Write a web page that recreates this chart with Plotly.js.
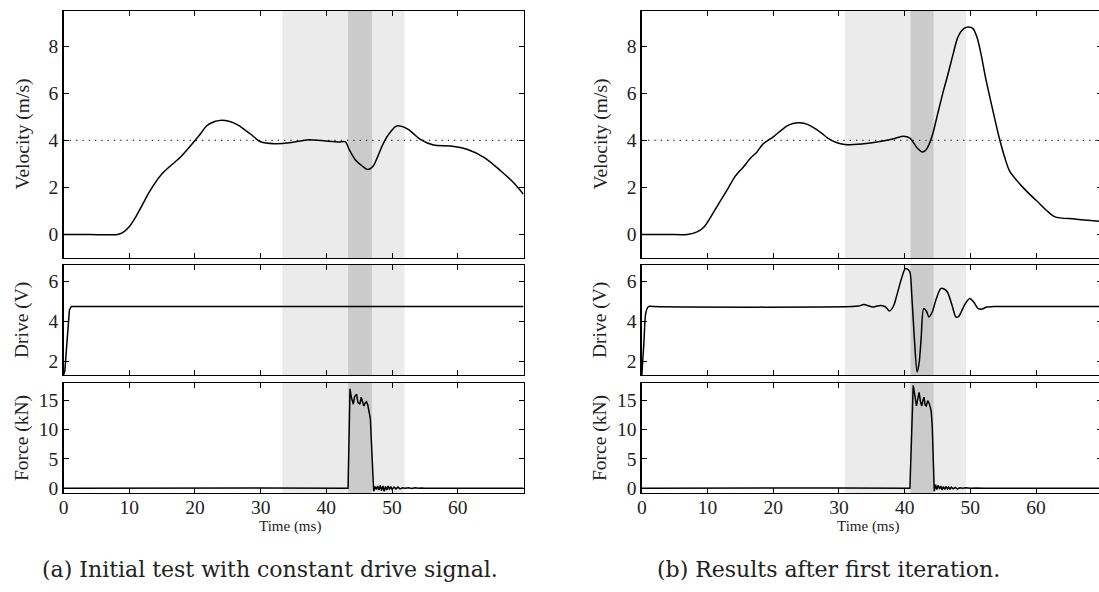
<!DOCTYPE html>
<html>
<head>
<meta charset="utf-8">
<script src="https://cdn.plot.ly/plotly-3.0.1.min.js"></script>
<style>
html,body{margin:0;padding:0;overflow:hidden;background:#fff;}
#chart{width:1102px;height:592px;}
</style>
</head>
<body>
<div id="chart"></div>
<script>
// ---------- Data ----------
// (a) Initial test with constant drive signal
const velTimeA = [0, 4, 8.2, 9, 10, 11, 12, 13, 14.1, 15, 16.2, 17.7, 19.3, 20.8, 21.8, 23, 24.1, 25.3, 26.5, 27.5, 28.5, 30, 32.1, 34.7, 37.3, 39.9, 41.9, 42.9, 43.5, 44.5, 45.5, 46.3, 47.1, 47.8, 48.6, 49.6, 50.7, 52.2, 53.2, 54.3, 56.3, 58.9, 61.5, 64.1, 66.6, 68.5, 70];
const velA     = [0, 0, 0, 0.08, 0.33, 0.75, 1.26, 1.78, 2.26, 2.58, 2.9, 3.26, 3.76, 4.26, 4.62, 4.8, 4.86, 4.8, 4.66, 4.47, 4.26, 3.94, 3.86, 3.91, 4.03, 3.97, 3.93, 3.94, 3.6, 3.14, 2.9, 2.76, 2.9, 3.3, 3.83, 4.3, 4.61, 4.51, 4.3, 4.04, 3.8, 3.76, 3.61, 3.26, 2.69, 2.2, 1.71];

const driveTimeA = [0, 0.2, 0.9, 1.2, 70];
const driveA     = [1.3, 1.5, 4.55, 4.73, 4.73];

const forceTimeA = [0, 10, 20, 30, 43.3, 43.6, 43.8, 44.1, 44.3, 44.6, 44.8, 45.1, 45.3, 45.5, 45.7, 45.9, 46.1, 46.3, 46.5, 46.7, 46.85, 46.97, 47.1, 47.2, 47.4, 47.6, 47.8, 48.0, 48.2, 48.4, 48.6, 48.8, 49.0, 49.2, 49.4, 49.6, 49.8, 50.0, 50.3, 50.6, 50.9, 51.2, 51.6, 52, 52.5, 53, 53.5, 54, 54.5, 55, 70];
const forceA     = [0, 0.05, 0, 0.05, 0, 16.9, 15.5, 14.3, 15.6, 16.0, 14.6, 14.3, 15.5, 14.6, 14.0, 14.5, 14.7, 14.2, 12.8, 11.8, 8, 4, 0.5, -0.5, 0.3, -0.2, 0.4, -0.3, 0.5, -0.4, 0.4, -0.5, 0.3, -0.3, 0.4, -0.2, 0.3, -0.2, 0.2, -0.1, 0.2, -0.1, 0.1, 0, 0.1, -0.05, 0.1, 0, 0.05, 0, 0];

// (b) Results after first iteration
const velTimeB = [0, 4, 6.9, 8.5, 9.5, 10.5, 11.6, 12.9, 14.2, 15.4, 16.6, 17.5, 18.4, 20, 22, 23, 24.1, 25.2, 26.2, 27.3, 28.3, 29.5, 30.9, 33.5, 36.7, 38.5, 39.8, 40.8, 41.9, 42.7, 43.2, 43.7, 44.3, 45, 45.8, 46.6, 47.4, 48.1, 49, 49.7, 50.4, 51, 51.6, 52.3, 53.4, 54.4, 55.2, 56, 58.1, 60.2, 62.8, 65.9, 70];
const velB     = [0, 0, 0, 0.12, 0.33, 0.75, 1.26, 1.85, 2.47, 2.85, 3.26, 3.5, 3.83, 4.15, 4.6, 4.72, 4.75, 4.68, 4.53, 4.32, 4.1, 3.92, 3.82, 3.85, 3.97, 4.08, 4.18, 4.1, 3.68, 3.51, 3.58, 3.82, 4.3, 5.1, 6.0, 6.82, 7.7, 8.39, 8.75, 8.82, 8.75, 8.39, 7.7, 6.68, 5.3, 4.1, 3.3, 2.68, 1.97, 1.4, 0.76, 0.66, 0.55];

const driveTimeB = [0, 0.3, 0.6, 0.9, 1.2, 1.8, 32, 33, 33.8, 34.5, 35.1, 35.8, 36.4, 37.1, 37.7, 38.3, 38.8, 39.5, 40.1, 40.5, 40.8, 41.1, 41.5, 41.9, 42.2, 42.5, 42.9, 43.3, 43.7, 44.2, 44.8, 45.5, 46, 46.5, 47.2, 47.8, 48.2, 48.6, 49.2, 49.9, 50.5, 51.2, 51.8, 52.5, 53.5, 70];
const driveB     = [1.3, 2.8, 4.4, 4.68, 4.74, 4.72, 4.72, 4.75, 4.82, 4.76, 4.7, 4.75, 4.77, 4.7, 4.5, 4.75, 5.28, 6.1, 6.62, 6.58, 6.45, 5.2, 3.0, 1.45, 1.9, 3.1, 4.62, 4.5, 4.2, 4.45, 5.1, 5.62, 5.6, 5.45, 4.8, 4.2, 4.22, 4.45, 4.85, 5.12, 4.95, 4.62, 4.6, 4.7, 4.72, 4.72];

const forceTimeB = [0, 10, 20, 30, 40.8, 41.1, 41.3, 41.55, 41.8, 42.0, 42.2, 42.4, 42.6, 42.8, 42.95, 43.1, 43.3, 43.5, 43.7, 43.9, 44.05, 44.2, 44.35, 44.5, 44.7, 44.9, 45.1, 45.3, 45.5, 45.7, 45.9, 46.1, 46.3, 46.5, 46.7, 46.9, 47.1, 47.4, 47.7, 48, 48.4, 48.8, 49.3, 50, 51, 52, 70];
const forceB     = [0, 0.05, 0, 0.05, 0, 12, 17.5, 15.8, 14.0, 15.2, 16.3, 14.8, 14.0, 15.0, 15.5, 14.2, 14.0, 14.9, 14.5, 13.8, 13, 10.5, 4, -0.5, 0.6, -0.2, 0.5, -0.1, 0.4, -0.3, 0.3, -0.2, 0.3, -0.1, 0.2, -0.2, 0.2, -0.1, 0.15, -0.1, 0.1, 0, 0.1, 0, 0.05, 0, 0];

// Shaded time windows [start, end] (ms)
const lightWindowA = [33.3, 51.9];
const darkWindowA  = [43.3, 46.95];
const lightWindowB = [30.9, 49.35];
const darkWindowB  = [40.9, 44.4];

const targetVelocity = 4;

// Text
const velTitle = 'Velocity (m/s)';
const driveTitle = 'Drive (V)';
const forceTitle = 'Force (kN)';
const timeTitle = 'Time (ms)';
const captionA = '(a) Initial test with constant drive signal.';
const captionB = '(b) Results after first iteration.';

const timeTicks = [0, 10, 20, 30, 40, 50, 60];
const velTicks = [0, 2, 4, 6, 8];
const driveTicks = [2, 4, 6];
const forceTicks = [0, 5, 10, 15];

// ---------- Layout geometry (pixels) ----------
const W = 1102, H = 592;
const colA = [63.5, 523.5], colB = [641.8, 1101.8];
const rowVel = [11, 258], rowDrive = [265, 375], rowForce = [383, 493];
const xd = c => [c[0] / W, c[1] / W];
const yd = r => [1 - r[1] / H, 1 - r[0] / H];

const serif = 'Liberation Serif';
const captionFont = 'DejaVu Serif';
const tickFont = {family: serif, size: 19.5, color: '#222'};

function xAxis(col, showLabels) {
  return {
    domain: xd(col), range: [0, 70], tickvals: timeTicks, showticklabels: showLabels,
    ticks: 'inside', ticklen: 5, tickcolor: '#000', tickwidth: 1,
    showline: true, linecolor: '#000', linewidth: 1.4, mirror: 'ticks',
    showgrid: false, zeroline: false, tickfont: tickFont, fixedrange: true,
    ticklabelstandoff: -4
  };
}
function yAxis(row, range, ticks, anchor) {
  return {
    domain: yd(row), range: range, tickvals: ticks, anchor: anchor,
    ticks: 'inside', ticklen: 5, tickcolor: '#000', tickwidth: 1,
    showline: true, linecolor: '#000', linewidth: 1.4, mirror: 'ticks',
    showgrid: false, zeroline: false, tickfont: tickFont, fixedrange: true
  };
}

const lineStyle = {color: '#000', width: 1.5};
function trace(x, y, xa, ya, smooth) {
  return {
    x: x, y: y, xaxis: xa, yaxis: ya, type: 'scatter', mode: 'lines',
    line: smooth ? Object.assign({shape: 'spline', smoothing: 0.8}, lineStyle) : lineStyle,
    hoverinfo: 'skip', showlegend: false, cliponaxis: true
  };
}

const data = [
  trace(velTimeA, velA, 'x', 'y', true),
  trace(driveTimeA, driveA, 'x2', 'y2', false),
  trace(forceTimeA, forceA, 'x3', 'y3', false),
  trace(velTimeB, velB, 'x4', 'y4', true),
  trace(driveTimeB, driveB, 'x5', 'y5', true),
  trace(forceTimeB, forceB, 'x6', 'y6', false)
];

const shapes = [];
function windows(xa, ya, light, dark) {
  shapes.push({type: 'rect', layer: 'below', xref: xa, yref: ya + ' domain', x0: light[0], x1: light[1], y0: 0, y1: 1, fillcolor: '#ebebeb', line: {width: 0}});
  shapes.push({type: 'rect', layer: 'below', xref: xa, yref: ya + ' domain', x0: dark[0], x1: dark[1], y0: 0, y1: 1, fillcolor: '#cbcbcb', line: {width: 0}});
}
windows('x', 'y', lightWindowA, darkWindowA);
windows('x2', 'y2', lightWindowA, darkWindowA);
windows('x3', 'y3', lightWindowA, darkWindowA);
windows('x4', 'y4', lightWindowB, darkWindowB);
windows('x5', 'y5', lightWindowB, darkWindowB);
windows('x6', 'y6', lightWindowB, darkWindowB);
[['x', 'y'], ['x4', 'y4']].forEach(([xa, ya]) => {
  shapes.push({type: 'line', layer: 'below', xref: xa + ' domain', yref: ya, x0: 0, x1: 1, y0: targetVelocity, y1: targetVelocity, line: {color: '#333', width: 1.3, dash: '1.3px,5px'}});
});

function ann(text, px, py, size, angle, family) {
  return {text: text, xref: 'paper', yref: 'paper', x: px / W, y: 1 - py / H, xanchor: 'center', yanchor: 'middle', showarrow: false, textangle: angle || 0, font: {family: family || serif, size: size, color: '#222'}};
}
const annotations = [
  ann(velTitle, 22, (rowVel[0] + rowVel[1]) / 2, 19.5, -90),
  ann(driveTitle, 22, (rowDrive[0] + rowDrive[1]) / 2, 19.5, -90),
  ann(forceTitle, 22, (rowForce[0] + rowForce[1]) / 2, 19.5, -90),
  ann(velTitle, 600, (rowVel[0] + rowVel[1]) / 2, 19.5, -90),
  ann(driveTitle, 600, (rowDrive[0] + rowDrive[1]) / 2, 19.5, -90),
  ann(forceTitle, 600, (rowForce[0] + rowForce[1]) / 2, 19.5, -90),
  ann(timeTitle, 290, 526, 15),
  ann(timeTitle, 868, 526, 15),
  ann(captionA, 270, 569, 22, 0, captionFont),
  ann(captionB, 828, 569, 22, 0, captionFont)
];

const layout = {
  width: W, height: H, margin: {l: 0, r: 0, t: 0, b: 0},
  paper_bgcolor: '#fff', plot_bgcolor: 'rgba(0,0,0,0)',
  showlegend: false,
  font: {family: serif},
  xaxis: xAxis(colA, false), yaxis: yAxis(rowVel, [-1, 9.5], velTicks, 'x'),
  xaxis2: Object.assign(xAxis(colA, false), {anchor: 'y2'}), yaxis2: yAxis(rowDrive, [1.3, 6.8], driveTicks, 'x2'),
  xaxis3: Object.assign(xAxis(colA, true), {anchor: 'y3'}), yaxis3: yAxis(rowForce, [-0.8, 17.9], forceTicks, 'x3'),
  xaxis4: Object.assign(xAxis(colB, false), {anchor: 'y4'}), yaxis4: yAxis(rowVel, [-1, 9.5], velTicks, 'x4'),
  xaxis5: Object.assign(xAxis(colB, false), {anchor: 'y5'}), yaxis5: yAxis(rowDrive, [1.3, 6.8], driveTicks, 'x5'),
  xaxis6: Object.assign(xAxis(colB, true), {anchor: 'y6'}), yaxis6: yAxis(rowForce, [-0.8, 17.9], forceTicks, 'x6'),
  shapes: shapes, annotations: annotations
};
layout.xaxis.anchor = 'y';

Plotly.newPlot('chart', data, layout, {staticPlot: true, displayModeBar: false});
</script>
</body>
</html>
